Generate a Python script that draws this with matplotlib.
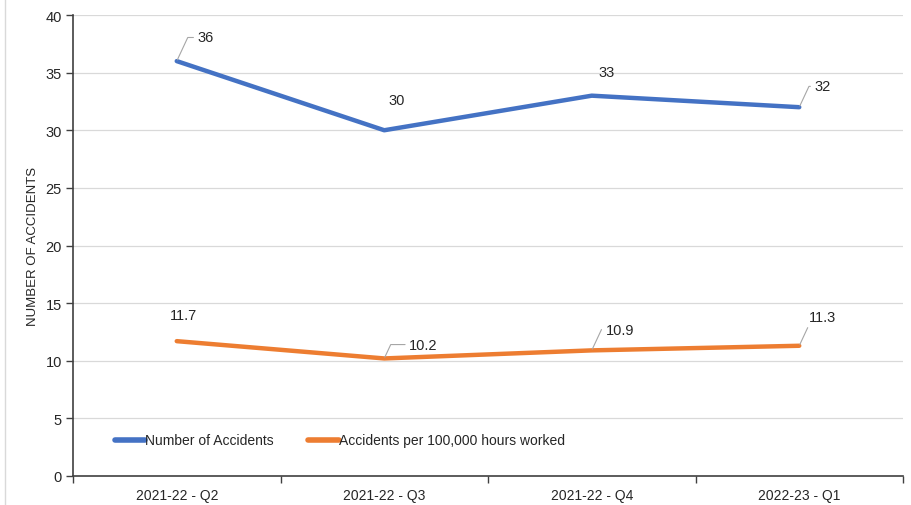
import matplotlib
matplotlib.use('Agg')
import matplotlib.pyplot as plt
from matplotlib.lines import Line2D

plt.rcParams['font.family'] = ['Liberation Sans', 'DejaVu Sans']

quarters = ['2021-22 - Q2', '2021-22 - Q3', '2021-22 - Q4', '2022-23 - Q1']
accidents = [36, 30, 33, 32]
rate = [11.7, 10.2, 10.9, 11.3]

blue = '#4472C4'
orange = '#ED7D31'

fig = plt.figure(figsize=(9.11, 5.06), dpi=100)
ax = fig.add_axes([73 / 911, 1 - 477 / 506, (903 - 73) / 911, (477 - 16) / 506])

x = list(range(len(quarters)))
ax.plot(x, accidents, color=blue, lw=3.2, solid_capstyle='round', solid_joinstyle='round',
        label='Number of Accidents', zorder=3)
ax.plot(x, rate, color=orange, lw=3.2, solid_capstyle='round', solid_joinstyle='round',
        label='Accidents per 100,000 hours worked', zorder=3)

ax.set_xlim(-0.5, len(quarters) - 0.5)
ax.set_ylim(0, 40)
ax.set_yticks(range(0, 41, 5))
ax.set_xticks(x)
ax.set_xticklabels(quarters)
ax.set_xticks([i - 0.5 for i in range(len(quarters) + 1)], minor=True)
ax.tick_params(axis='x', which='major', length=0, pad=9, labelsize=10, colors='#262626')
ax.tick_params(axis='x', which='minor', length=5, width=1, color='#404040', direction='out')
ax.tick_params(axis='y', length=5, width=1, color='#404040', labelsize=10.5, pad=3,
               labelcolor='#262626')

ax.grid(axis='y', color='#D9D9D9', lw=0.9)
ax.set_axisbelow(True)
for side in ('top', 'right'):
    ax.spines[side].set_visible(False)
for side in ('left', 'bottom'):
    ax.spines[side].set_color('#404040')
    ax.spines[side].set_linewidth(1.2)

ax.set_ylabel('NUMBER OF ACCIDENTS', fontsize=9.5, color='#262626', labelpad=5)

# data labels with leader lines
def label(xi, yi, txt, dx, dy, leader=True):
    props = None
    if leader:
        props = dict(arrowstyle='-', color='#A6A6A6', lw=0.8, shrinkA=1, shrinkB=1,
                     connectionstyle='angle,angleA=180,angleB=65,rad=0')
    ax.annotate(txt, xy=(xi, yi), xytext=(dx, dy), textcoords='offset points',
                ha='left', va='center', fontsize=10.5, color='#262626',
                arrowprops=props, zorder=4)

blue_offsets = [(15, 17, True), (3, 22, False), (5, 17, False), (11, 15, True)]
orange_offsets = [(-5, 19, False), (18, 10, True), (10, 15, True), (7, 21, True)]
for i, (v, (dx, dy, ld)) in enumerate(zip(accidents, blue_offsets)):
    label(i, v, str(v), dx, dy, ld)
for i, (v, (dx, dy, ld)) in enumerate(zip(rate, orange_offsets)):
    label(i, v, f'{v:.1f}', dx, dy, ld)

handles = [Line2D([], [], color=blue, lw=4, solid_capstyle='round'),
           Line2D([], [], color=orange, lw=4, solid_capstyle='round')]
ax.legend(handles, ['Number of Accidents', 'Accidents per 100,000 hours worked'],
          loc='lower left', bbox_to_anchor=(0.035, 0.035), ncol=2, frameon=False,
          fontsize=10, handlelength=2.2, handletextpad=0.0, columnspacing=2.5,
          labelcolor='#262626')

# thin outline on the left edge of the chart area
fig.add_artist(Line2D([5 / 911, 5 / 911], [0, 1], color='#D9D9D9', lw=1,
                      transform=fig.transFigure))

fig.savefig('out.png', dpi=100)
